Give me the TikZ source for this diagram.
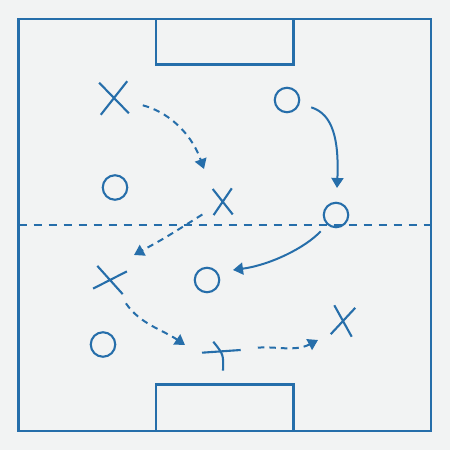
\documentclass[tikz,border=0pt]{standalone}
\usepackage{tikz}
\usetikzlibrary{arrows.meta,shapes.misc,backgrounds}

\definecolor{chalk}{RGB}{38,110,170}
\definecolor{turf}{RGB}{242,243,243}

\begin{document}
\begin{tikzpicture}[x=1pt,y=1pt,>={Triangle[length=10pt,width=12pt]}]
  \tikzstyle{pitch}=[draw=chalk,line width=2.4pt]
  \tikzstyle{attacker}=[circle,draw=chalk,line width=2.1pt,minimum size=24.5pt,inner sep=0pt]
  \tikzstyle{defender}=[cross out,draw=chalk,line width=2.1pt,inner sep=0pt]
  \tikzstyle{run}=[->,draw=chalk,line width=2pt]
  \tikzstyle{pass}=[run,dash pattern=on 6.5pt off 5pt]

  \useasboundingbox (0,0) rectangle (450,470);
  \fill[turf] (0,20) rectangle (450,470);

  % pitch markings
  \draw[pitch] (18.5,39) rectangle (431,451);
  \draw[pitch,line width=2.2pt] (156,451) rectangle (293.5,405.5);
  \draw[pitch,line width=2.2pt] (156,39) rectangle (293.5,85.5);
  \draw[pitch,line width=2pt,dash pattern=on 8pt off 7pt] (18.5,245) -- (431,245);

  \begin{scope}
    % players
    \node[defender,minimum width=26pt,minimum height=30pt,rotate=3] (d1) at (114,372) {};
    \node[attacker] (a1) at (287,370) {};
    \node[attacker] (a2) at (115,282.5) {};
    \node[defender,minimum width=17pt,minimum height=24pt,rotate=2] (d2) at (222.7,268.3) {};
    \node[attacker] (a3) at (336,255) {};
    \node[defender,minimum width=28pt,minimum height=21pt,rotate=-10.5] (d3) at (110,190) {};
    \node[attacker] (a4) at (207,190) {};
    \node[attacker] (a5) at (103,125.5) {};
    \node[defender,minimum width=19pt,minimum height=27pt,rotate=-7] (d4) at (343,149) {};
    \coordinate (d5) at (220,118.5);
    \draw[pitch,line width=2.1pt] (202,117.3) -- (240.7,120);
    \draw[pitch,line width=2.1pt] (213.3,128.3) .. controls (223.5,115.5) .. (223,99.3);

    % where the moves end
    \coordinate (t1) at (204,301);
    \coordinate (t2) at (337,282);
    \coordinate (t3) at (134,215);
    \coordinate (t4) at (233,200);
    \coordinate (t5) at (185,125);
    \coordinate (t6) at (318,130);
  \end{scope}

  \begin{scope}
    \draw[pass,shorten <=15pt] (d1) .. controls (165,359) and (190,340) .. (t1);
    \draw[run,shorten <=12pt] (a1) .. controls (333,356) and (339,330) .. (t2);
    \draw[pass,shorten <=13pt] (d2) .. controls (165,232) .. (t3);
    \draw[run,shorten <=9pt] (a3) .. controls (305,222) and (270,205) .. (t4);
    \draw[pass,shorten <=12pt] (d3) .. controls (140,146) and (163,140) .. (t5);
    \draw[pass,shorten <=38pt] (d5) .. controls (275,124) and (295,118) .. (t6);
  \end{scope}
\end{tikzpicture}
\end{document}
